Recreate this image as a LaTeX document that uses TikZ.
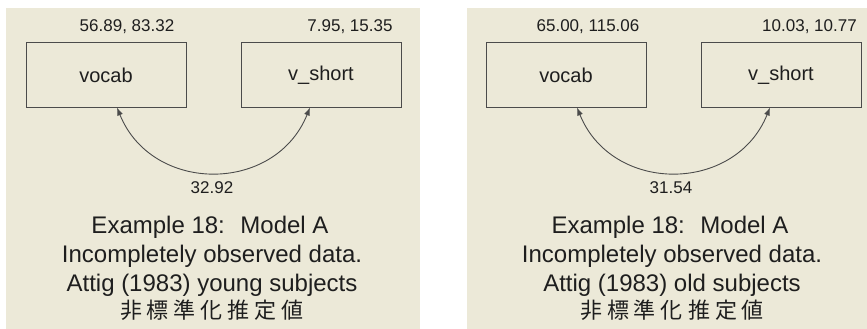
\documentclass[tikz,border=0pt]{standalone}
\usepackage{fontspec}
\setmainfont{Liberation Sans}
\newfontfamily\cjk{Noto Sans CJK JP}
\usetikzlibrary{arrows.meta}
\definecolor{bg}{HTML}{ECE9D8}
\definecolor{ink}{HTML}{1E1E1E}
\newcommand{\cjkgap}{\hspace{5pt}}
\begin{document}
\begin{tikzpicture}[x=1pt,y=1pt,
  varbox/.style={draw=ink!80, line width=1pt, minimum width=160pt, minimum height=64pt, inner sep=0pt, font=\fontsize{20}{20}\selectfont, text=ink},
  estlabel/.style={anchor=base, inner sep=0pt, font=\fontsize{17}{17}\selectfont, text=ink},
  caption/.style={anchor=base, inner sep=0pt, font=\fontsize{24}{24}\selectfont, text=ink},
  cjkcaption/.style={anchor=base, inner sep=0pt, font=\cjk\fontsize{22}{22}\selectfont, text=ink},
  covarrow/.style={{Latex[length=8pt,width=6pt]}-{Latex[length=8pt,width=6pt]}, draw=ink!80, line width=0.9pt}]
\fill[white] (0,0) rectangle (867,-329);
\useasboundingbox (0,0) rectangle (867,-329);
\fill[bg] (6,-8) rectangle (420,-329);
\fill[bg] (467,-8) rectangle (867,-329);
% left panel
\node[varbox] (v1) at (106,-75) {vocab};
\node[varbox] (s1) at (321,-75) {v\_short};
\coordinate (a1) at ([xshift=11pt]v1.south);
\coordinate (b1) at ([xshift=-11pt]s1.south);
\draw[covarrow] (a1) to[out=-68,in=-112,looseness=1.24] (b1);
\node[estlabel] (l1) at (127,-32) {56.89, 83.32};
\node[estlabel] (m1) at (350,-32) {7.95, 15.35};
\node[estlabel] (c1) at (212,-193) {32.92};
\node[caption] (t11) at (210,-233) {Example 18:~ Model A};
\node[caption] (t12) at (212,-262) {Incompletely observed data.};
\node[caption] (t13) at (212,-291) {Attig (1983) young subjects};
\node[cjkcaption] (t14) at (212,-318) {非\cjkgap 標\cjkgap 準\cjkgap 化\cjkgap 推\cjkgap 定\cjkgap 値};
% right panel
\begin{scope}[xshift=460pt]
\node[varbox] (v2) at (106,-75) {vocab};
\node[varbox] (s2) at (321,-75) {v\_short};
\coordinate (a2) at ([xshift=11pt]v2.south);
\coordinate (b2) at ([xshift=-11pt]s2.south);
\draw[covarrow] (a2) to[out=-68,in=-112,looseness=1.24] (b2);
\node[estlabel] (l2) at (128,-32) {65.00, 115.06};
\node[estlabel] (m2) at (349.5,-32) {10.03, 10.77};
\node[estlabel] (c2) at (211,-193) {31.54};
\node[caption] (t21) at (210,-233) {Example 18:~ Model A};
\node[caption] (t22) at (212,-262) {Incompletely observed data.};
\node[caption] (t23) at (212,-291) {Attig (1983) old subjects};
\node[cjkcaption] (t24) at (212,-318) {非\cjkgap 標\cjkgap 準\cjkgap 化\cjkgap 推\cjkgap 定\cjkgap 値};
\end{scope}
\end{tikzpicture}
\end{document}
